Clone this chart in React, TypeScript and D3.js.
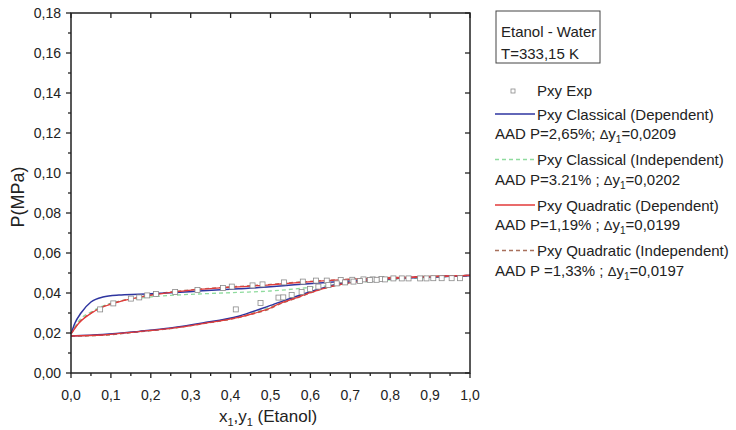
import React from "react";
import * as d3 from "d3";

// ---------- data ----------
const xTicks = [0, 0.1, 0.2, 0.3, 0.4, 0.5, 0.6, 0.7, 0.8, 0.9, 1.0];
const yTicks = [0, 0.02, 0.04, 0.06, 0.08, 0.1, 0.12, 0.14, 0.16, 0.18];

// experimental bubble points (x1, P)
const expBubbleX = [0.073, 0.106, 0.150, 0.171, 0.191, 0.213, 0.261, 0.317, 0.381, 0.403, 0.455, 0.480, 0.534, 0.581, 0.614, 0.641, 0.676, 0.705, 0.733, 0.756, 0.778, 0.808, 0.829, 0.846, 0.875, 0.891, 0.908, 0.929, 0.954, 0.975];
const expBubbleP = [0.0318, 0.0348, 0.0372, 0.0378, 0.0388, 0.0395, 0.0405, 0.0415, 0.0425, 0.0432, 0.0438, 0.0443, 0.0453, 0.0457, 0.0462, 0.0462, 0.0465, 0.0466, 0.0468, 0.0468, 0.0470, 0.0473, 0.0473, 0.0473, 0.0473, 0.0473, 0.0474, 0.0474, 0.0474, 0.0474];
// experimental dew points (y1, P)
const expDewY = [0.413, 0.475, 0.520, 0.532, 0.553, 0.578, 0.599, 0.620, 0.645, 0.666, 0.687, 0.708, 0.724, 0.749, 0.766, 0.787];
const expDewP = [0.0318, 0.0350, 0.0377, 0.0378, 0.0390, 0.0405, 0.0420, 0.0432, 0.0440, 0.0448, 0.0453, 0.0457, 0.0460, 0.0465, 0.0466, 0.0468];

// Classical (Dependent) - blue
const clDepBubX = [0, 0.01, 0.025, 0.05, 0.08, 0.12, 0.17, 0.25, 0.33, 0.42, 0.5, 0.56, 0.64, 0.72, 0.81, 0.9, 1.0];
const clDepBubP = [0.0195, 0.025, 0.0300, 0.0355, 0.0380, 0.0390, 0.0394, 0.0401, 0.0411, 0.0421, 0.0431, 0.0441, 0.0452, 0.0463, 0.0472, 0.0480, 0.0487];
const clDepDewY = [0, 0.08, 0.17, 0.25, 0.33, 0.42, 0.5, 0.56, 0.6, 0.64, 0.68, 0.72, 0.81, 0.9, 1.0];
const clDepDewP = [0.0185, 0.0192, 0.0208, 0.0225, 0.0250, 0.0284, 0.0338, 0.0380, 0.0406, 0.0430, 0.0447, 0.0458, 0.0473, 0.0480, 0.0487];

// Classical (Independent) - green dashed
const clIndBubX = [0, 0.02, 0.05, 0.08, 0.12, 0.17, 0.25, 0.33, 0.42, 0.5, 0.6, 0.7, 0.8, 0.9, 1.0];
const clIndBubP = [0.0195, 0.0262, 0.0305, 0.0335, 0.0358, 0.0374, 0.0388, 0.0396, 0.0403, 0.0410, 0.0428, 0.0448, 0.0466, 0.0478, 0.0487];
const clIndDewY = [0, 0.08, 0.17, 0.25, 0.33, 0.42, 0.5, 0.56, 0.6, 0.64, 0.68, 0.72, 0.81, 0.9, 1.0];
const clIndDewP = [0.0185, 0.0190, 0.0207, 0.0223, 0.0248, 0.0280, 0.0330, 0.0374, 0.0402, 0.0427, 0.0445, 0.0457, 0.0472, 0.0480, 0.0487];

// Quadratic (Dependent) - red
const quDepBubX = [0, 0.02, 0.05, 0.08, 0.12, 0.17, 0.21, 0.25, 0.33, 0.42, 0.5, 0.56, 0.64, 0.72, 0.81, 0.89, 1.0];
const quDepBubP = [0.0195, 0.0250, 0.0298, 0.0330, 0.0356, 0.0378, 0.0392, 0.0403, 0.0419, 0.0431, 0.0441, 0.0451, 0.0462, 0.0470, 0.0477, 0.0482, 0.0488];
const quDepDewY = [0, 0.08, 0.17, 0.25, 0.33, 0.42, 0.47, 0.5, 0.52, 0.56, 0.6, 0.64, 0.68, 0.72, 0.81, 0.9, 1.0];
const quDepDewP = [0.0185, 0.0190, 0.0207, 0.0223, 0.0247, 0.0278, 0.0305, 0.0325, 0.0345, 0.0373, 0.0402, 0.0427, 0.0445, 0.0457, 0.0473, 0.0481, 0.0488];

// Quadratic (Independent) - brown dashed
const quIndBubX = [0, 0.02, 0.05, 0.08, 0.12, 0.17, 0.21, 0.25, 0.33, 0.42, 0.5, 0.56, 0.64, 0.72, 0.81, 0.89, 1.0];
const quIndBubP = [0.0195, 0.0252, 0.0300, 0.0332, 0.0358, 0.0380, 0.0394, 0.0405, 0.0421, 0.0433, 0.0443, 0.0453, 0.0463, 0.0471, 0.0478, 0.0483, 0.0488];
const quIndDewY = [0, 0.08, 0.17, 0.25, 0.33, 0.42, 0.47, 0.5, 0.52, 0.56, 0.6, 0.64, 0.68, 0.72, 0.81, 0.9, 1.0];
const quIndDewP = [0.0185, 0.0189, 0.0206, 0.0222, 0.0246, 0.0277, 0.0303, 0.0322, 0.0342, 0.0370, 0.0400, 0.0426, 0.0444, 0.0457, 0.0473, 0.0481, 0.0488];

const legendTitle = ["Etanol - Water", "T=333,15 K"];
const seriesNames = ["Pxy Exp", "Pxy Classical (Dependent)", "Pxy Classical (Independent)", "Pxy Quadratic (Dependent)", "Pxy Quadratic (Independent)"];
const aadPrefix = ["AAD P=2,65%; ", "AAD P=3.21% ; ", "AAD P=1,19% ; ", "AAD P =1,33% ; "];
const aadDy = ["=0,0209", "=0,0202", "=0,0199", "=0,0197"];

// ---------- layout ----------
const W = 736, H = 430;
const L = 71, R = 470, T = 13, B = 373;
const FONT = "'Liberation Sans', Arial, sans-serif";
const BLUE = "#2e35a0", GREEN = "#8fdb9e", RED = "#e23a3a", BROWN = "#a8705c";

const fmt = (v: number, d: number) => v.toFixed(d).replace(".", ",");

export default function App() {
  const x = d3.scaleLinear().domain([0, 1]).range([L, R]);
  const y = d3.scaleLinear().domain([0, 0.18]).range([B, T]);
  const line = d3.line<[number, number]>().x(d => x(d[0])).y(d => y(d[1])).curve(d3.curveMonotoneX);
  const zip = (a: number[], b: number[]) => a.map((v, i) => [v, b[i]] as [number, number]);

  const curves = [
    { bx: clIndBubX, bp: clIndBubP, dx: clIndDewY, dp: clIndDewP, color: GREEN, dash: "4,3", w: 1.3 },
    { bx: quIndBubX, bp: quIndBubP, dx: quIndDewY, dp: quIndDewP, color: BROWN, dash: "4,3", w: 1.3 },
    { bx: clDepBubX, bp: clDepBubP, dx: clDepDewY, dp: clDepDewP, color: BLUE, dash: "", w: 1.5 },
    { bx: quDepBubX, bp: quDepBubP, dx: quDepDewY, dp: quDepDewP, color: RED, dash: "", w: 1.3 },
  ];

  const xMinor = d3.range(0.05, 1, 0.1);
  const yMinor = d3.range(0.01, 0.18, 0.02);

  const legendLines = [
    { color: BLUE, dash: "" },
    { color: GREEN, dash: "4,3" },
    { color: RED, dash: "" },
    { color: BROWN, dash: "4,3" },
  ];

  return (
    <svg width={W} height={H} style={{ position: "absolute", left: 0, top: 0, background: "#fff" }} fontFamily={FONT}>
      <rect x={0} y={0} width={W} height={H} fill="#fff" />
      {/* curves */}
      {curves.map((c, i) => (
        <g key={i} fill="none" stroke={c.color} strokeWidth={c.w} strokeDasharray={c.dash || undefined}>
          <path d={line(zip(c.bx, c.bp)) || ""} />
          <path d={line(zip(c.dx, c.dp)) || ""} />
        </g>
      ))}
      {/* experimental points */}
      {expBubbleX.map((v, i) => (
        <rect key={"b" + i} x={x(v) - 2.5} y={y(expBubbleP[i]) - 2.5} width={5} height={5} fill="#fff" stroke="#8a8a8a" strokeWidth={0.8} />
      ))}
      {expDewY.map((v, i) => (
        <rect key={"d" + i} x={x(v) - 2.5} y={y(expDewP[i]) - 2.5} width={5} height={5} fill="#fff" stroke="#8a8a8a" strokeWidth={0.8} />
      ))}

      {/* frame */}
      <rect x={L} y={T} width={R - L} height={B - T} fill="none" stroke="#222" strokeWidth={1.5} />
      {/* bottom ticks */}
      {xTicks.map(t => (
        <g key={"xt" + t}>
          <line x1={x(t)} x2={x(t)} y1={B} y2={B + 5} stroke="#222" strokeWidth={1.3} />
          <line x1={x(t)} x2={x(t)} y1={T} y2={T + 5} stroke="#222" strokeWidth={1.3} />
          <text x={x(t)} y={400} textAnchor="middle" fontSize={14} fill="#222">{fmt(t, 1)}</text>
        </g>
      ))}
      {xMinor.map(t => (
        <line key={"xm" + t} x1={x(t)} x2={x(t)} y1={B} y2={B + 3} stroke="#222" strokeWidth={1.3} />
      ))}
      {/* left ticks */}
      {yTicks.map(t => (
        <g key={"yt" + t}>
          <line x1={L - 5} x2={L} y1={y(t)} y2={y(t)} stroke="#222" strokeWidth={1.3} />
          <line x1={R - 5} x2={R} y1={y(t)} y2={y(t)} stroke="#222" strokeWidth={1.3} />
          <text x={61} y={y(t) + 5} textAnchor="end" fontSize={14} fill="#222">{fmt(t, 2)}</text>
        </g>
      ))}
      {yMinor.map(t => (
        <line key={"ym" + t} x1={L - 3} x2={L} y1={y(t)} y2={y(t)} stroke="#222" strokeWidth={1.3} />
      ))}
      {/* axis titles */}
      <text x={268} y={422} textAnchor="middle" fontSize={17} fill="#222">
        x<tspan fontSize={11} dy={4}>1</tspan><tspan dy={-4}>,y</tspan><tspan fontSize={11} dy={4}>1</tspan><tspan dy={-4}> (Etanol)</tspan>
      </text>
      <text transform={`translate(24,197) rotate(-90)`} textAnchor="middle" fontSize={18} fill="#222">P(MPa)</text>

      {/* legend box */}
      <rect x={496} y={11} width={104} height={52} fill="#fff" stroke="#444" strokeWidth={1} />
      <text x={501} y={37} fontSize={15} fill="#222">{legendTitle[0]}</text>
      <text x={501} y={59} fontSize={15} fill="#222">{legendTitle[1]}</text>

      {/* legend entries */}
      <rect x={511} y={89} width={4} height={4} fill="#fff" stroke="#8a8a8a" strokeWidth={0.8} />
      <text x={537} y={96} fontSize={15} fill="#222">{seriesNames[0]}</text>
      {legendLines.map((l, i) => {
        const yl = 114 + i * 45.5;
        return (
          <g key={"lg" + i}>
            <line x1={495} x2={535} y1={yl} y2={yl} stroke={l.color} strokeWidth={1.3} strokeDasharray={l.dash || undefined} />
            <text x={537} y={yl + 5.5} fontSize={15} fill="#222">{seriesNames[i + 1]}</text>
            <text x={495} y={yl + 25} fontSize={15} fill="#222">
              {aadPrefix[i]}<tspan fontSize={13}>Δ</tspan>y<tspan fontSize={10} dy={4}>1</tspan><tspan dy={-4}>{aadDy[i]}</tspan>
            </text>
          </g>
        );
      })}
    </svg>
  );
}
